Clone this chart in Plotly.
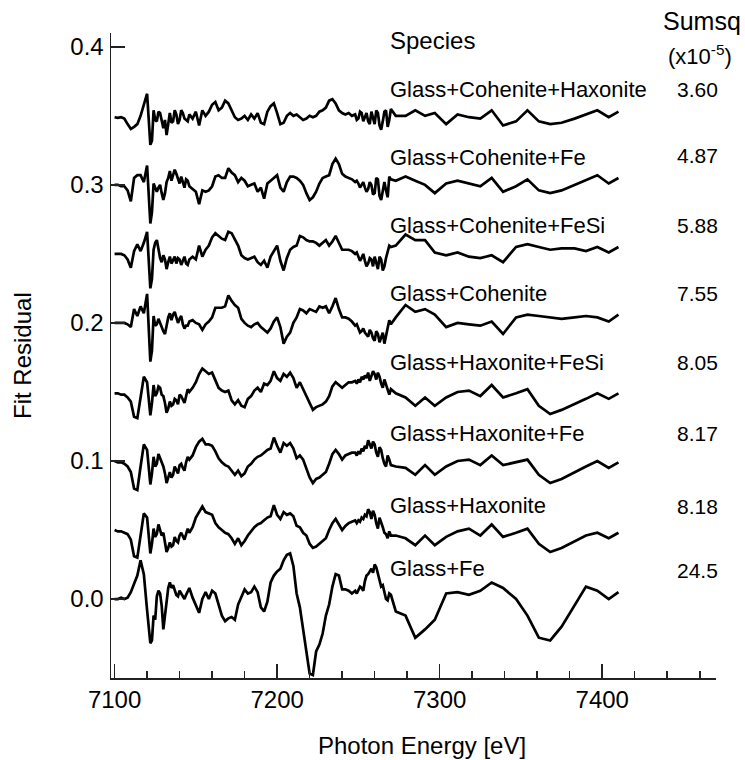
import plotly.graph_objects as go

# ---------------- data ----------------
energy = [7100, 7102, 7104, 7106, 7108, 7110, 7112, 7114, 7116, 7118, 7120, 7122,
          7123, 7124, 7125, 7126, 7127, 7128, 7129, 7130, 7131, 7132, 7133, 7134,
          7135, 7136, 7137, 7138, 7139, 7140, 7141, 7142, 7143, 7144, 7145, 7146,
          7148, 7150, 7152, 7154, 7156, 7158,
          7160, 7162, 7164, 7166, 7168, 7170, 7172, 7174, 7176, 7178,
          7180, 7182, 7184, 7186, 7188, 7190, 7192, 7194, 7196, 7198,
          7200, 7202, 7204, 7206, 7208, 7210, 7212, 7214, 7216, 7218,
          7220, 7222, 7224, 7226, 7228, 7230, 7232, 7234, 7236, 7238,
          7240, 7242, 7244, 7246, 7248,
          7249, 7250, 7251, 7252, 7253, 7254, 7255, 7256, 7257, 7258, 7259,
          7260, 7261, 7262, 7263, 7264, 7265, 7266, 7267, 7268, 7269, 7270,
          7273, 7279, 7285, 7291, 7297, 7304, 7311, 7318, 7325, 7332,
          7339, 7347, 7354, 7361, 7368, 7375, 7383, 7390, 7397, 7404, 7410]

species = ["Glass+Cohenite+Haxonite", "Glass+Cohenite+Fe", "Glass+Cohenite+FeSi",
           "Glass+Cohenite", "Glass+Haxonite+FeSi", "Glass+Haxonite+Fe",
           "Glass+Haxonite", "Glass+Fe"]
sumsq = ["3.60", "4.87", "5.88", "7.55", "8.05", "8.17", "8.18", "24.5"]
offsets = [0.35, 0.30, 0.25, 0.20, 0.15, 0.10, 0.05, 0.0]

# residuals in units of 1e-3
resid_coh_hax = [-1, -1.5, -1, -2, -6, -9.5, -8, -6, 0, 8, 16, -21,
                 -18, 4, -3, -4, 3, 2, -5, -9, -3, -14, -6, 2,
                 -5, -4, 4, 1, -6, -3, 4, 2, -2, -3, -4, 1,
                 -2, 3, -7, 4, 0, 3,
                 8, 10, 4, 6, 11, 9, 4, -1, -3, -2,
                 0, -3, 1, -2, 2, -5, -6, 3, 7, 9,
                 2, -6, -5, 0, 2, 0, 1, -1, -3, -2,
                 0, -1, 0, 3, 4, 6, 11, 12, 9, 4,
                 2, 1, 2, 0, 1,
                 -3, -2, 3, 2, -4, -1, 2, -4, -6, 3, -2,
                 -6, 4, 2, -7, -10, -4, 3, 4, -8, -3, 5,
                 0, 0, 4, 0, 2, -6, 1, -1, -2, 4,
                 -7, -4, 4, -4, -6, -5, -2, 1, 4, -1, 3]
resid_coh_fe = [0, 0, -1, -1, -4, -12, 5, 7, 7, 2, 14, -28,
                -20, 1, -2, -5, -2, 0, -6, -11, -6, 2, 5, 10,
                3, 7, 11, 8, 4, 1, 6, 2, -2, 4, 3, -1,
                -3, -5, -14, -4, -5, -4,
                -1, 6, 7, 5, 5, 12, 9, 7, 2, 5,
                3, -1, 0, 1, -5, -2, -10, 1, 3, 5,
                7, -2, -5, 2, 6, 6, 5, 3, 0, -6,
                -11, -9, -5, 1, 5, 6, 7, 15, 19, 15,
                8, 6, 5, 4, 2,
                3, 1, -2, 0, 2, -2, -5, -3, 2, 0, -7,
                -6, 5, 4, -8, -11, -3, 2, -4, -9, 6, 4,
                3, 6, 3, 0, -6, 1, 3, 1, -1, 5,
                -5, -1, 4, -4, -6, -4, 0, 4, 7, 1, 5]
resid_coh_fesi = [0, 0, 0, -1, -4, -10, 2, 7, 2, 8, 16, -25,
                  -18, 3, 8, 10, 4, -3, -6, -1, -4, -11, -6, -2,
                  -7, -4, -2, -7, -3, -4, -8, -5, -2, -7, -8, -4,
                  -2, -4, 6, -2, 3, 6,
                  12, 15, 13, 11, 10, 16, 15, 10, 6, -1,
                  -3, -4, -3, -2, -6, -8, -5, -10, -2, 2,
                  6, -5, -12, -3, 3, 5, 6, 13, 12, 10,
                  9, 9, 8, 6, 8, 10, 6, 9, 13, 8,
                  3, 3, 3, 2, 0,
                  1, -2, -5, -3, 0, -5, -9, -7, -3, -4, -9,
                  -2, -6, -11, -2, -4, -12, -9, -3, 2, 6, 5,
                  6, 14, 10, 10, 1, -1, 1, -2, -3, -1,
                  -6, 5, 7, 5, 3, 4, 4, 2, 5, 1, 5]
resid_coh = [0, 0, 0, 0, -1, -3, 10, 5, 12, 7, 21, -28,
             -20, 5, -2, -1, 3, 0, -4, -6, -8, -2, 4, 7,
             2, 6, 8, 4, 0, 3, 5, -1, -4, -2, -2, 1,
             2, 0, -1, -5, -1, 1,
             4, 11, 11, 11, 12, 20, 16, 13, 11, 3,
             0, -2, -3, -1, 0, -3, -5, -7, -4, 1,
             4, -3, -15, -10, -7, 0, 4, 10, 9, 7,
             10, 9, 8, 12, 11, 12, 7, 12, 18, 10,
             4, 4, 3, 1, -2,
             -1, -4, -7, -6, -4, -7, -9, -10, -5, -7, -11,
             -13, -6, -8, -14, -10, -7, -15, -10, -4, 2, -1,
             4, 13, 8, 10, 6, -3, 0, -1, -2, 1,
             -8, 4, 6, 5, 4, 3, 4, 5, 4, 1, 6]
resid_hax_fesi = [-1, -1, -2, -2, -4, -7, -18, -19, -4, 11, 7, -17,
                  -8, 5, -3, -1, 4, 3, -2, -3, -8, -15, -12, -7,
                  -10, -9, -5, -6, -9, -2, -3, -6, -8, -3, 2, 0,
                  3, 7, 13, 17, 15, 13,
                  14, 9, 3, 1, 0, 1, -6, -9, -6, -10,
                  -11, -5, -3, 1, 3, 0, 6, 5, 8, 15,
                  10, 8, 13, 11, 14, 10, 3, 7, 2, -3,
                  -9, -13, -11, -10, -9, -7, -3, 4, 7, 5,
                  3, 5, 7, 7, 8,
                  6, 9, 7, 11, 9, 12, 10, 14, 8, 11, 15,
                  13, 9, 14, 11, 6, 3, 9, 5, 1, -2, 2,
                  -1, -4, -10, -4, -10, -4, 0, 1, -3, 5,
                  -4, -1, 2, -10, -16, -13, -9, -5, -1, -5, -1]
resid_hax_fe = [0, -1, -1, -2, -4, -8, -20, -21, -4, 12, 8, -17,
                -9, 3, -4, -2, 5, 2, -1, -4, -9, -16, -12, -8,
                -12, -10, -4, -7, -9, -3, -2, -5, -7, -1, 3, 1,
                4, 10, 14, 16, 12, 12,
                11, 7, 2, -1, -3, -4, -7, -10, -7, -11,
                -9, -4, -2, 1, 3, 4, 6, 8, 9, 17,
                11, 6, 13, 11, 13, 9, 2, 4, 1, -5,
                -12, -16, -13, -12, -10, -8, -2, 5, 8, 5,
                1, 4, 5, 6, 6,
                4, 7, 5, 9, 7, 11, 9, 15, 12, 9, 14,
                12, 6, 3, 10, 8, 2, -2, -4, 4, 1, -3,
                -4, -5, -10, -3, -10, -4, 0, 1, -3, 4,
                -3, -1, 1, -10, -16, -13, -8, -4, 0, -5, -1]
resid_hax = [0, -1, -1, -2, -3, -7, -19, -20, -3, 12, 9, -17,
             -10, 1, -5, -3, 4, 0, -4, -2, -10, -16, -13, -9,
             -12, -11, -5, -8, -9, -4, -2, -5, -7, -3, 1, -2,
             2, 9, 13, 17, 13, 12,
             11, 5, 2, 0, -2, -3, -6, -10, -6, -11,
             -8, -4, -1, 2, 4, 5, 7, 9, 10, 18,
             11, 8, 13, 11, 12, 10, 3, 2, -2, -4,
             -10, -13, -12, -10, -8, -6, 0, 5, 8, 4,
             0, 3, 5, 6, 7,
             5, 7, 6, 9, 8, 11, 10, 15, 13, 8, 14,
             11, 5, 1, 9, 6, 2, -2, -3, -6, -1, -4,
             -4, -6, -11, -4, -11, -5, -1, 1, -4, 4,
             -5, -2, 1, -10, -16, -13, -8, -4, -2, -6, -2]
resid_fe = [0, 0, 1, 0, 1, 5, 11, 17, 28, 18, -8, -32,
            -30, -12, -15, 2, 6, 4, -5, -22, -12, 0, 8, 12,
            8, 10, 6, 3, 2, 6, 4, 2, 0, 3, 6, 8,
            1, -4, -10, 0, 5, 0,
            6, 4, -5, -12, -16, -14, -13, -15, -4, 2,
            7, 4, 5, 9, 5, -6, -9, -2, 12, 17,
            20, 22, 28, 32, 33, 24, 4, -6, -22, -38,
            -54, -55, -38, -33, -25, -12, -4, 9, 18, 17,
            7, 7, 6, 4, 6,
            4, 7, 9, 8, 6, 13, 17, 18, 20, 22, 19,
            25, 23, 18, 12, 9, 10, 5, 0, -1, 4, 3,
            -9, -12, -28, -22, -15, 4, 5, 3, 6, 12,
            8, 0, -12, -28, -30, -20, -4, 9, 6, 0, 5]

residuals = [resid_coh_hax, resid_coh_fe, resid_coh_fesi, resid_coh,
             resid_hax_fesi, resid_hax_fe, resid_hax, resid_fe]
for r in residuals:
    assert len(r) == len(energy), (len(r), len(energy))

# ---------------- layout geometry ----------------
W, H = 745, 760
L, R, T, B = 111, 29, 33, 82
FONT = "Arial, 'Liberation Sans', Helvetica, sans-serif"


def paper(px, py):
    """page pixel position -> paper coordinates"""
    return (px - L) / (W - L - R), (H - B - py) / (H - T - B)


fig = go.Figure()
for name, off, res in zip(species, offsets, residuals):
    fig.add_trace(go.Scatter(
        x=energy, y=[off + v / 1000.0 for v in res], mode="lines", name=name,
        line=dict(color="black", width=2.7), showlegend=False, hoverinfo="skip"))

ann = []
label_y = [90, 157, 225, 293, 362, 434, 505, 568]
value_y = [90, 155, 225, 293, 362, 434, 506, 570]
for name, val, ly, vy in zip(species, sumsq, label_y, value_y):
    x, y = paper(388, ly)
    ann.append(dict(x=x, y=y, xref="paper", yref="paper", text=name, showarrow=False,
                    xanchor="left", yanchor="middle", font=dict(size=22, color="black")))
    x, y = paper(697, vy)
    ann.append(dict(x=x, y=y, xref="paper", yref="paper", text=val, showarrow=False,
                    xanchor="center", yanchor="middle", font=dict(size=21, color="black")))

x, y = paper(432, 40)
ann.append(dict(x=x, y=y, xref="paper", yref="paper", text="Species", showarrow=False,
                xanchor="center", yanchor="middle", font=dict(size=24, color="black")))
x, y = paper(702, 21)
ann.append(dict(x=x, y=y, xref="paper", yref="paper", text="Sumsq", showarrow=False,
                xanchor="center", yanchor="middle", font=dict(size=25, color="black")))
x, y = paper(700, 55)
ann.append(dict(x=x, y=y, xref="paper", yref="paper", text="(x10<sup>-5</sup>)", showarrow=False,
                xanchor="center", yanchor="middle", font=dict(size=22, color="black")))
x, y = paper(422, 745)
ann.append(dict(x=x, y=y, xref="paper", yref="paper", text="Photon Energy [eV]", showarrow=False,
                xanchor="center", yanchor="middle", font=dict(size=24, color="black")))
x, y = paper(22, 356)
ann.append(dict(x=x, y=y, xref="paper", yref="paper", text="Fit Residual", showarrow=False,
                textangle=-90, xanchor="center", yanchor="middle", font=dict(size=24, color="black")))

axis_common = dict(showline=True, linecolor="#222", linewidth=1.5, ticks="inside",
                   tickcolor="#222", tickwidth=1.5, ticklen=14, showgrid=False,
                   zeroline=False, tickfont=dict(size=24, color="black"))

fig.update_layout(
    width=W, height=H, margin=dict(l=L, r=R, t=T, b=B),
    paper_bgcolor="white", plot_bgcolor="white",
    font=dict(family=FONT, color="black"),
    annotations=ann,
    hovermode=False,
    xaxis=dict(range=[7097.8, 7470], tick0=7100, dtick=100,
               minor=dict(ticks="inside", ticklen=7, dtick=20, tick0=7100,
                          tickcolor="#222", tickwidth=1.5),
               ticklabelstandoff=0, **axis_common),
    yaxis=dict(range=[-0.0572, 0.410], tick0=0, dtick=0.1, tickformat=".1f",
               ticklabelstandoff=1, **axis_common),
)

fig.write_html("out.html",
               config={"displayModeBar": False, "staticPlot": True},
               post_script="document.body.style.margin='0px';"
                           "document.body.style.overflow='hidden';")
